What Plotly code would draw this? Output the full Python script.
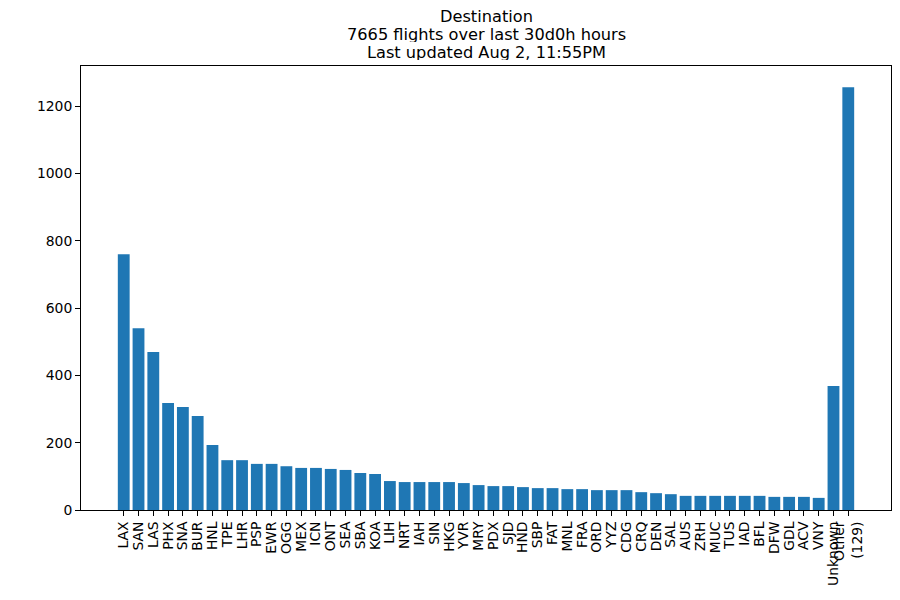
import plotly.graph_objects as go

# Destination airports and flight counts
airports = ["LAX", "SAN", "LAS", "PHX", "SNA", "BUR", "HNL", "TPE", "LHR", "PSP",
            "EWR", "OGG", "MEX", "ICN", "ONT", "SEA", "SBA", "KOA", "LIH", "NRT",
            "IAH", "SIN", "HKG", "YVR", "MRY", "PDX", "SJD", "HND", "SBP", "FAT",
            "MNL", "FRA", "ORD", "YYZ", "CDG", "CRQ", "DEN", "SAL", "AUS", "ZRH",
            "MUC", "TUS", "IAD", "BFL", "DFW", "GDL", "ACV", "VNY", "Unknown",
            "Other<br>(129)"]
flights = [760, 540, 469, 318, 306, 279, 193, 148, 148, 137,
           137, 130, 125, 125, 122, 119, 110, 107, 86, 83,
           83, 83, 83, 80, 74, 71, 71, 68, 65, 65,
           62, 62, 59, 59, 59, 53, 50, 47, 42, 42,
           42, 42, 42, 42, 39, 39, 39, 36, 368,
           1256]
yticks = [0, 200, 400, 600, 800, 1000, 1200]

title_lines = ["Destination",
               "7665 flights over last 30d0h hours",
               "Last updated Aug 2, 11:55PM"]

font = "DejaVu Sans"

fig = go.Figure(go.Bar(x=airports, y=flights, marker_color="#1f77b4",
                       marker_line_width=0))

# three title lines, packed tight like matplotlib does
plot_h = 444
annotations = []
for i, line in enumerate(title_lines):
    ypix = 17 + i * 18
    annotations.append(dict(text=line, xref="paper", yref="paper", x=0.5,
                            y=1 + (66 - ypix) / plot_h, xanchor="center",
                            yanchor="middle", showarrow=False, height=15,
                            font=dict(family=font, size=16.2, color="black")))

n = len(airports)
fig.update_layout(
    width=900, height=600,
    margin=dict(l=81, r=9, t=66, b=90),
    plot_bgcolor="white", paper_bgcolor="white",
    bargap=0.2, showlegend=False,
    font=dict(family=font, size=13.9, color="black"),
    annotations=annotations,
)
fig.update_xaxes(type="category", tickmode="array", tickvals=airports, ticktext=airports,
                 range=[-0.4 - 0.05 * (n - 0.2), n - 0.6 + 0.05 * (n - 0.2)],
                 tickangle=-90, ticks="outside", ticklen=4.9, tickwidth=1.1,
                 tickcolor="black", showline=True, linecolor="black", linewidth=1.1,
                 mirror=True, showgrid=False, automargin=False,
                 tickfont=dict(family=font, size=13.9, color="black"))
fig.update_yaxes(range=[0, 1256 * 1.05], tickvals=yticks,
                 ticks="outside", ticklen=4.9, tickwidth=1.1, tickcolor="black",
                 showline=True, linecolor="black", linewidth=1.1, mirror=True,
                 showgrid=False, zeroline=False, automargin=False,
                 tickfont=dict(family=font, size=13.9, color="black"))

fig.write_html("out.html", config={"displayModeBar": False},
               post_script="document.body.style.margin='0';")
